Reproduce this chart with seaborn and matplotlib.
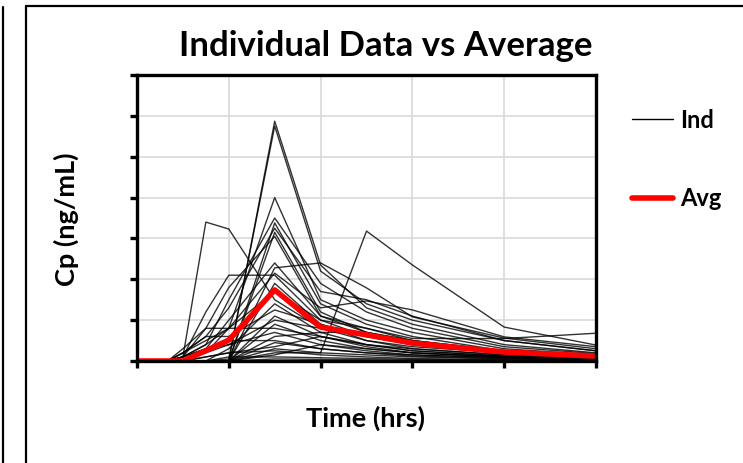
import numpy as np
import pandas as pd
import matplotlib
matplotlib.use("Agg")
import matplotlib.pyplot as plt
from matplotlib.lines import Line2D
import seaborn as sns

# Sampling times (hrs) for the individual profiles
times = [0, 0.67, 1, 1.5, 2, 3, 4, 5, 6, 8, 10]

# Individual concentration-time profiles (ng/mL)
ind_01 = [0, 0, 0, 0, 0, 58.7, 23.5, 13, 9, 4, 2]
ind_02 = [0, 0, 0, 0, 0.5, 57.5, 22, 14, 10, 5, 2.5]
ind_03 = [0, 0, 0, 2, 8, 40, 15, 10, 7, 3, 1.5]
ind_04 = [0, 0, 1, 4, 15, 35, 19, 12, 8, 3.5, 1.8]
ind_05 = [0, 0, 0, 0, 0, 33.8, 14, 9, 6, 2.5, 1.2]
ind_06 = [0, 0, 2, 6, 13, 32.5, 17, 15, 11, 5, 2.5]
ind_07 = [0, 0, 0, 0, 0, 31.5, 12, 7, 4.5, 2, 1]
ind_08 = [0, 0, 3, 8, 18, 30.5, 11, 8, 5, 2.2, 1]
ind_09 = [0, 0, 1, 34, 32.3, 15, 8, 5, 3.5, 2, 1]
ind_10 = [0, 0, 0, 0, 0, 2, 2, 31.8, 23.5, 8.3, 3.9]
ind_11 = [0, 0, 1, 12, 21, 21, 10, 6, 4, 2, 1]
ind_12 = [0, 0, 0, 3, 10, 24, 11, 7, 5, 2.5, 1.2]
ind_13 = [0, 0, 0, 0, 0, 22.8, 24, 17.9, 10.8, 5.6, 3]
ind_14 = [0, 0, 2, 5, 8, 21.5, 13, 14.7, 12.5, 5.9, 3.5]
ind_15 = [0, 0, 0, 0, 0, 19, 9, 5, 3, 1.5, 0.8]
ind_16 = [0, 0, 1, 4, 8, 17, 10, 8, 5.5, 5.5, 6.8]
ind_17 = [0, 0, 0, 0, 3, 14, 7, 4, 2.5, 1.2, 0.6]
ind_18 = [0, 0, 2, 6, 6, 12.5, 9, 6, 4, 2, 1]
ind_19 = [0, 0, 0, 0, 0, 11, 6, 3.5, 2, 1, 0.5]
ind_20 = [0, 0, 1, 3, 4, 10, 8, 6, 4.5, 2.5, 1.5]
ind_21 = [0, 0, 0, 0, 0, 9, 5, 3, 2, 1, 0.5]
ind_22 = [0, 0, 1, 8, 8, 8, 6, 4, 3, 1.5, 0.8]
ind_23 = [0, 0, 0, 2, 4, 7, 4, 2.5, 1.5, 0.8, 0.4]
ind_24 = [0, 0, 0, 0, 0, 6, 7, 7, 5, 2.5, 1.2]
ind_25 = [0, 0, 1, 3, 5, 5, 3, 2, 1.5, 0.8, 0.4]
ind_26 = [0, 0, 0, 0, 0, 4.5, 3, 2, 1.2, 0.6, 0.3]
ind_27 = [0, 0, 0, 1, 2, 3.5, 6, 4, 2.5, 1.2, 0.6]
ind_28 = [0, 0, 0, 0, 0, 3, 2, 1.5, 1, 0.5, 0.3]
ind_29 = [0, 0, 0, 1, 2, 2.5, 1.5, 1, 0.6, 0.3, 0.2]
ind_30 = [0, 0, 0, 0, 0, 1.5, 4, 3, 2, 1, 0.5]
ind_31 = [0, 0, 0, 0, 1, 1, 0.8, 0.6, 0.4, 0.2, 0.1]
ind_32 = [0, 0, 0, 0, 0, 0.5, 0.4, 0.3, 0.2, 0.1, 0.1]

# Mean profile at nominal times
avg_times = [0, 1, 2, 3, 4, 5, 6, 8, 10]
avg_cp = [0, 0, 5.1, 17.4, 8.3, 6.4, 4.4, 2.2, 1.2]

profiles = [ind_01, ind_02, ind_03, ind_04, ind_05, ind_06, ind_07, ind_08,
            ind_09, ind_10, ind_11, ind_12, ind_13, ind_14, ind_15, ind_16,
            ind_17, ind_18, ind_19, ind_20, ind_21, ind_22, ind_23, ind_24,
            ind_25, ind_26, ind_27, ind_28, ind_29, ind_30, ind_31, ind_32]

ind_df = pd.DataFrame(
    [(i + 1, t, c) for i, prof in enumerate(profiles) for t, c in zip(times, prof)],
    columns=["subject", "time", "cp"],
)
avg_df = pd.DataFrame({"time": avg_times, "cp": avg_cp})

sns.set_theme(style="white")
plt.rcParams["font.family"] = ["Lato", "DejaVu Sans"]
plt.rcParams["text.color"] = "black"

fig = plt.figure(figsize=(7.43, 4.63), dpi=100)
fig.patch.set_facecolor("white")

# slide frame lines
fig.add_artist(Line2D([26 / 743, 26 / 743], [0, 1 - 6 / 463], color="black", lw=1.6))
fig.add_artist(Line2D([26 / 743, 1], [1 - 6 / 463, 1 - 6 / 463], color="black", lw=1.6))
fig.add_artist(Line2D([3 / 743, 3 / 743], [0, 1 - 7 / 463], color="black", lw=1.6))

ax = fig.add_axes([137 / 743, 102 / 463, 459 / 743, 286 / 463])

sns.lineplot(data=ind_df, x="time", y="cp", units="subject", estimator=None,
             color="black", lw=1.0, alpha=0.8, ax=ax, legend=False)
sns.lineplot(data=avg_df, x="time", y="cp", color="#ff0000", lw=4,
             ax=ax, legend=False)

ax.set_xlim(0, 10)
ax.set_ylim(0, 70)
ax.set_xticks(np.arange(0, 11, 2))
ax.set_yticks(np.arange(0, 71, 10))
ax.set_xticklabels([])
ax.set_yticklabels([])
ax.grid(True, color="#d9d9d9", lw=1.2)
ax.set_axisbelow(True)
for sp in ax.spines.values():
    sp.set_visible(True)
    sp.set_color("black")
    sp.set_linewidth(2.4)
ax.tick_params(axis="both", which="major", direction="out", length=5,
               width=2.4, color="black", left=True, bottom=True)

ax.set_xlabel("")
ax.set_ylabel("")
fig.text(386 / 743, 1 - 46 / 463, "Individual Data vs Average",
         ha="center", va="center", fontsize=25, fontweight="bold", color="black")
fig.text(66 / 743, 1 - 219 / 463, "Cp (ng/mL)", rotation=90,
         ha="center", va="center", fontsize=19.5, fontweight="bold", color="black")
fig.text(365 / 743, 1 - 418 / 463, "Time (hrs)",
         ha="center", va="center", fontsize=19.5, fontweight="bold", color="black")

handles = [Line2D([], [], color="black", lw=1.0),
           Line2D([], [], color="#ff0000", lw=4)]
leg = fig.legend(handles, ["Ind", "Avg"], loc="upper left",
                 bbox_to_anchor=(632 / 743, 1 - 108.5 / 463), frameon=False,
                 borderpad=0, borderaxespad=0, handlelength=1.74, handletextpad=0.3,
                 labelspacing=2.37, prop={"weight": "bold", "size": 17})
for txt in leg.get_texts():
    txt.set_color("black")

fig.savefig("out.png", dpi=100)
